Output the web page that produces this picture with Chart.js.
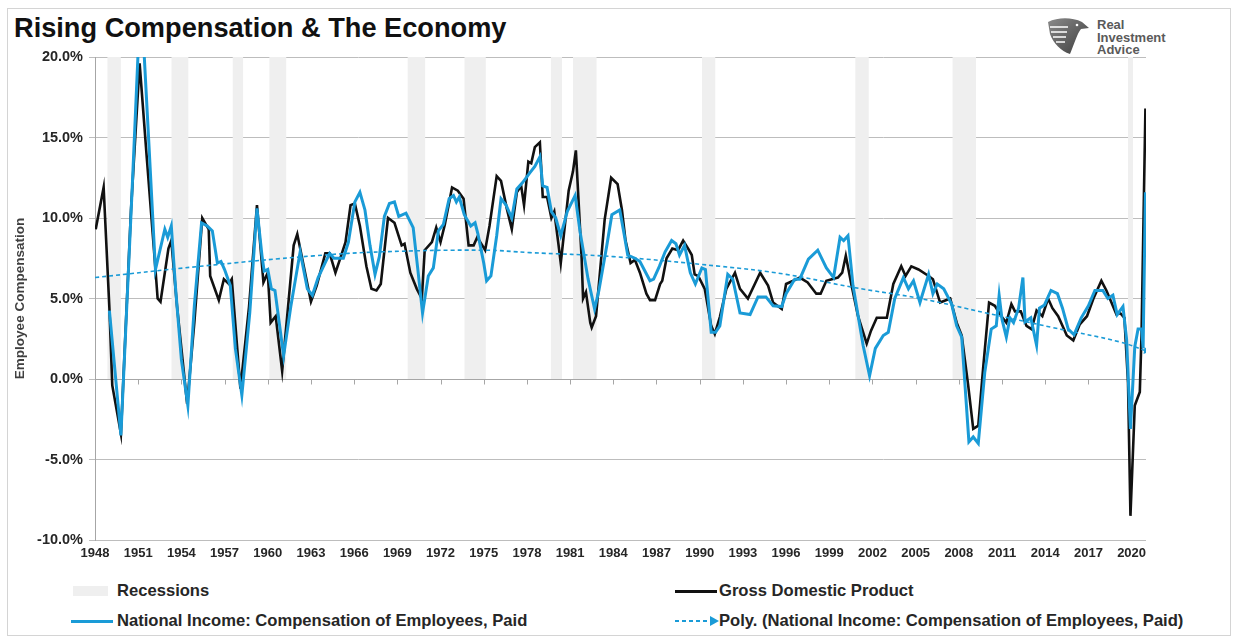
<!DOCTYPE html>
<html>
<head>
<meta charset="utf-8">
<script src="https://cdn.jsdelivr.net/npm/chart.js@4.4.1/dist/chart.umd.min.js"></script>
<style>
  body { margin: 0; background: #fff; font-family: Arial, "Liberation Sans", sans-serif; }
  #wrap { position: relative; width: 1236px; height: 641px; overflow: hidden; background: #fff; }
  #frame { position: absolute; left: 7px; top: 8px; width: 1222px; height: 626px; border: 1px solid #d4d4d4; }
  #title { position: absolute; left: 14px; top: 14px; font-size: 27.2px; line-height: 27px; font-weight: bold; color: #111; white-space: nowrap; }
  #chartBox { position: absolute; left: 0; top: 0; }
  #logoText { position: absolute; left: 1097px; top: 19px; font-size: 13px; line-height: 12.5px; font-weight: bold; color: #5a5a5a; }
  #logoMark { position: absolute; left: 1046px; top: 16px; }
  .leg { position: absolute; font-size: 16.6px; line-height: 20px; font-weight: bold; color: #262626; white-space: nowrap; }
  .sw { position: absolute; }
</style>
</head>
<body>
<div id="wrap">
  <div id="frame"></div>
  <div id="title">Rising Compensation &amp; The Economy</div>
  <svg id="logoMark" width="44" height="40" viewBox="0 0 44 40">
    <defs>
      <linearGradient id="lg" x1="0" y1="0" x2="1" y2="1">
        <stop offset="0" stop-color="#8a8a8a"/>
        <stop offset="1" stop-color="#3c3c3c"/>
      </linearGradient>
    </defs>
    <path d="M2 6 C12 1 26 1 36 6 L43 12 L35 13 C31 18 29 26 24 38 C15 35 7 27 4 18 Z" fill="url(#lg)"/>
    <path d="M4 11 L22 11 M5 16 L21 16 M7 21 L20 21 M10 26 L19 26" stroke="#fff" stroke-width="1.6"/>
    <circle cx="31" cy="9" r="1.3" fill="#fff"/>
  </svg>
  <div id="logoText">Real<br>Investment<br>Advice</div>
  <div id="chartBox"><canvas id="chart" width="1236" height="570"></canvas></div>

  <div class="sw" style="left:73px;top:586px;width:35px;height:10px;background:#efefef;"></div>
  <div class="leg" style="left:117px;top:581px;">Recessions</div>
  <div class="sw" style="left:71px;top:620px;width:42px;height:3px;background:#1a9bd7;"></div>
  <div class="leg" style="left:117px;top:611px;">National Income: Compensation of Employees, Paid</div>

  <div class="sw" style="left:675px;top:590px;width:42px;height:3px;background:#111;"></div>
  <div class="leg" style="left:719px;top:581px;">Gross Domestic Product</div>
  <svg class="sw" style="left:674px;top:614px;" width="46" height="14">
    <line x1="1" y1="7" x2="38" y2="7" stroke="#1a9bd7" stroke-width="2" stroke-dasharray="4,3"/>
    <polygon points="36,2 45,7 36,12" fill="#1a9bd7"/>
  </svg>
  <div class="leg" style="left:719px;top:611px;">Poly. (National Income: Compensation of Employees, Paid)</div>
</div>

<script>
// recession shading (year fractions)
const recessionStart = [1948.85, 1953.3, 1957.55, 1960.1, 1969.7, 1973.65, 1979.65, 1981.2, 1990.15, 2000.8, 2007.55, 2019.75];
const recessionEnd   = [1949.8, 1954.5, 1958.3, 1961.3, 1970.95, 1975.15, 1980.45, 1982.85, 1991.1, 2001.75, 2009.2, 2020.1];

// Gross Domestic Product, % change y/y  [year, value]
const gdpSeries = [
  [1948.05, 9.3], [1948.6, 11.9], [1949.0, 4.4], [1949.2, -0.4], [1949.8, -3.4], [1950.5, 10.5],
  [1951.1, 19.6], [1951.6, 13.7], [1952.2, 6.8], [1952.35, 5.0], [1952.55, 4.8], [1953.1, 8.1],
  [1953.3, 8.6], [1953.7, 4.5], [1954.4, -1.55], [1954.9, 3.5], [1955.45, 10.0], [1955.9, 9.3],
  [1956.0, 6.4], [1956.6, 4.9], [1956.95, 6.2], [1957.3, 5.9], [1957.5, 6.2], [1958.1, -0.6],
  [1958.7, 4.5], [1959.25, 10.8], [1959.7, 6.0], [1960.0, 6.6], [1960.2, 3.5], [1960.55, 3.9],
  [1961.0, 0.5], [1961.8, 8.3], [1962.05, 9.0], [1962.5, 7.0], [1963.0, 4.8], [1963.4, 5.8],
  [1964.0, 7.8], [1964.3, 7.8], [1964.7, 6.6], [1965.0, 7.4], [1965.4, 8.5], [1965.75, 10.8],
  [1966.05, 10.9], [1966.4, 9.5], [1966.85, 7.0], [1967.2, 5.6], [1967.55, 5.5], [1967.85, 5.9],
  [1968.35, 10.0], [1968.8, 9.7], [1969.3, 8.3], [1969.5, 8.4], [1969.9, 6.6], [1970.35, 5.6],
  [1970.7, 5.0], [1970.9, 8.0], [1971.4, 8.5], [1971.7, 9.4], [1972.0, 8.5], [1972.3, 9.6],
  [1972.8, 11.9], [1973.2, 11.7], [1973.6, 11.2], [1973.95, 8.3], [1974.3, 8.3], [1974.55, 8.8],
  [1974.9, 8.3], [1975.1, 8.0], [1975.4, 9.5], [1975.9, 12.6], [1976.2, 12.3], [1976.6, 10.6],
  [1976.95, 9.3], [1977.3, 11.6], [1977.6, 12.0], [1977.8, 10.8], [1978.1, 13.5], [1978.3, 13.4],
  [1978.55, 14.4], [1978.9, 14.7], [1979.1, 11.3], [1979.4, 11.3], [1979.7, 10.0], [1979.9, 10.4],
  [1980.2, 8.3], [1980.35, 7.2], [1980.9, 11.7], [1981.2, 12.9], [1981.4, 14.2], [1981.8, 7.5],
  [1981.9, 5.0], [1982.1, 5.4], [1982.4, 3.5], [1982.5, 3.2], [1982.8, 3.9], [1983.4, 9.9],
  [1983.85, 12.5], [1984.3, 12.1], [1984.6, 10.5], [1984.85, 8.6], [1985.2, 7.2], [1985.5, 7.4],
  [1985.85, 6.6], [1986.3, 5.3], [1986.55, 4.9], [1986.9, 4.9], [1987.25, 5.9], [1987.4, 6.1],
  [1987.7, 7.5], [1988.1, 8.1], [1988.5, 8.0], [1988.85, 8.6], [1989.2, 8.1], [1989.45, 7.7],
  [1989.65, 6.5], [1989.9, 6.4], [1990.35, 5.6], [1990.8, 3.3], [1991.05, 2.8], [1991.4, 3.85],
  [1991.85, 5.6], [1992.45, 6.6], [1992.8, 5.6], [1993.35, 5.0], [1994.2, 6.6], [1994.75, 5.8],
  [1995.1, 4.75], [1995.7, 4.35], [1996.0, 5.9], [1996.5, 6.1], [1996.95, 6.3], [1997.5, 6.0],
  [1998.1, 5.3], [1998.4, 5.3], [1998.8, 6.1], [1999.6, 6.3], [1999.9, 6.6], [2000.15, 7.65],
  [2000.55, 5.8], [2001.0, 3.9], [2001.6, 2.2], [2001.9, 3.0], [2002.3, 3.8], [2003.0, 3.8],
  [2003.45, 5.9], [2004.0, 7.0], [2004.3, 6.4], [2004.7, 7.0], [2005.2, 6.8], [2005.9, 6.4],
  [2006.2, 6.2], [2006.7, 4.75], [2007.4, 5.0], [2007.85, 3.5], [2008.2, 2.7], [2008.65, -0.4],
  [2009.0, -3.1], [2009.35, -2.9], [2009.7, 0.8], [2010.1, 4.75], [2010.5, 4.55], [2010.95, 3.9],
  [2011.3, 3.5], [2011.65, 4.65], [2011.9, 4.2], [2012.3, 4.2], [2012.7, 3.3], [2013.05, 3.1],
  [2013.4, 4.25], [2013.8, 3.9], [2014.2, 5.0], [2014.5, 4.4], [2014.9, 3.9], [2015.5, 2.7],
  [2015.95, 2.4], [2016.4, 3.4], [2016.9, 3.9], [2017.35, 5.0], [2017.9, 6.1], [2018.25, 5.5],
  [2018.6, 4.75], [2018.95, 4.0], [2019.2, 4.1], [2019.5, 3.8], [2019.75, -0.2], [2019.92, -8.5],
  [2020.22, -1.65], [2020.57, -0.8], [2020.69, 2.8], [2020.96, 16.8]
];

// National Income: Compensation of Employees, Paid, % change y/y  [year, value]
const compSeries = [
  [1949.0, 4.25], [1949.8, -3.5], [1950.6, 12.2], [1951.0, 20.4], [1951.4, 20.4], [1951.75, 14.5],
  [1952.2, 6.8], [1952.85, 9.3], [1953.05, 8.8], [1953.3, 9.5], [1953.6, 5.6], [1954.0, 1.2],
  [1954.45, -1.65], [1954.9, 4.55], [1955.4, 9.7], [1955.8, 9.5], [1956.15, 9.2], [1956.5, 7.2],
  [1956.75, 7.3], [1957.0, 6.8], [1957.4, 5.8], [1957.75, 1.9], [1958.2, -1.0], [1958.75, 4.1],
  [1959.25, 10.6], [1959.6, 7.65], [1959.75, 6.7], [1960.0, 6.8], [1960.25, 5.6], [1960.5, 5.5],
  [1961.1, 1.45], [1961.6, 4.5], [1962.25, 7.9], [1962.75, 5.6], [1963.1, 5.2], [1963.5, 6.3],
  [1964.0, 7.25], [1964.3, 7.8], [1964.6, 7.5], [1965.25, 7.5], [1965.6, 8.5], [1966.05, 11.0],
  [1966.4, 11.6], [1966.75, 10.5], [1967.1, 8.3], [1967.45, 6.5], [1967.75, 7.6], [1968.1, 10.1],
  [1968.45, 10.9], [1968.8, 11.0], [1969.1, 10.1], [1969.6, 10.3], [1970.1, 9.4], [1970.4, 7.0],
  [1970.75, 4.1], [1971.15, 6.4], [1971.5, 6.9], [1971.85, 9.2], [1972.2, 9.6], [1972.6, 11.2],
  [1972.9, 11.4], [1973.1, 11.0], [1973.3, 11.3], [1973.65, 10.2], [1974.1, 9.5], [1974.4, 9.7],
  [1974.6, 9.0], [1975.0, 7.2], [1975.2, 6.1], [1975.5, 6.4], [1975.9, 8.9], [1976.2, 11.2],
  [1976.55, 10.8], [1976.95, 10.0], [1977.3, 11.8], [1977.7, 12.2], [1978.2, 12.8], [1978.55, 13.2],
  [1978.9, 13.8], [1979.1, 12.0], [1979.4, 11.9], [1979.7, 10.4], [1980.0, 10.0], [1980.35, 8.9],
  [1980.8, 10.4], [1981.35, 11.4], [1981.7, 9.1], [1982.25, 6.2], [1982.7, 4.35], [1983.0, 5.5],
  [1983.55, 8.3], [1983.9, 10.2], [1984.45, 10.5], [1984.75, 9.0], [1985.0, 7.7], [1985.5, 7.5],
  [1985.85, 7.3], [1986.55, 6.1], [1986.8, 6.2], [1987.2, 7.0], [1987.6, 7.9], [1988.05, 8.6],
  [1988.35, 8.4], [1988.6, 7.7], [1988.95, 8.3], [1989.35, 6.6], [1989.7, 5.9], [1990.15, 6.9],
  [1990.4, 6.8], [1990.8, 2.9], [1991.1, 2.9], [1991.4, 3.3], [1991.95, 6.5], [1992.3, 6.2],
  [1992.8, 4.1], [1993.5, 4.0], [1994.05, 5.1], [1994.6, 5.1], [1995.1, 4.55], [1995.7, 4.5],
  [1996.0, 5.3], [1996.6, 6.2], [1996.95, 6.2], [1997.55, 7.45], [1998.2, 8.0], [1998.8, 6.9],
  [1999.3, 6.3], [1999.75, 8.8], [2000.0, 8.6], [2000.3, 8.9], [2000.65, 5.8], [2001.35, 2.1],
  [2001.8, 0.2], [2002.2, 1.9], [2002.75, 2.7], [2003.1, 2.9], [2003.55, 5.0], [2004.15, 6.3],
  [2004.5, 5.6], [2004.85, 6.1], [2005.3, 4.75], [2005.9, 6.5], [2006.2, 5.3], [2006.5, 5.9],
  [2006.95, 5.6], [2007.5, 4.65], [2007.85, 3.3], [2008.2, 2.6], [2008.7, -3.9], [2009.0, -3.6],
  [2009.35, -4.0], [2009.8, 0.4], [2010.25, 3.1], [2010.6, 3.3], [2010.8, 5.2], [2011.0, 3.7],
  [2011.3, 2.6], [2011.55, 3.8], [2011.8, 3.5], [2012.15, 4.4], [2012.45, 6.3], [2012.6, 3.55],
  [2013.0, 3.8], [2013.4, 2.1], [2013.6, 4.4], [2013.95, 4.6], [2014.4, 5.5], [2014.85, 5.3],
  [2015.2, 4.4], [2015.6, 3.1], [2016.0, 2.75], [2016.5, 3.8], [2017.0, 4.55], [2017.45, 5.5],
  [2018.0, 5.5], [2018.35, 5.0], [2018.7, 5.2], [2019.0, 4.0], [2019.4, 4.5], [2019.65, 2.5],
  [2019.92, -3.1], [2020.22, 2.0], [2020.45, 3.1], [2020.7, 3.1], [2020.8, 1.9], [2020.96, 11.6]
];

// Poly. trendline of compensation  [year, value]
const trendSeries = [
  [1948.0, 6.3], [1955.3, 7.0], [1963.2, 7.65], [1968.0, 7.9], [1975.0, 8.0], [1978.2, 7.85],
  [1984.0, 7.6], [1991.4, 7.0], [1996.0, 6.5], [2000.6, 5.7], [2005.3, 5.0], [2009.9, 4.1],
  [2014.5, 3.2], [2019.2, 2.3], [2021.0, 1.75]
];

const xTickStart = 1948, xTickEnd = 2020, xTickStep = 3;
const yTickValues = [-10, -5, 0, 5, 10, 15, 20];

const toPoints = s => s.map(p => ({ x: p[0], y: p[1] }));

const recessionPoints = [];
recessionStart.forEach((s, i) => {
  recessionPoints.push({ x: s, y: 20 }, { x: recessionEnd[i], y: 20 }, { x: recessionEnd[i], y: null });
});

const blue = '#1a9bd7';
const textColor = '#262626';
const fontFamily = 'Arial, "Liberation Sans", sans-serif';

// horizontal axis crosses at 0 with tick marks; labels sit at the bottom
const zeroAxis = {
  id: 'zeroAxis',
  beforeDatasetsDraw(chart) {
    const { ctx, chartArea, scales } = chart;
    const y0 = Math.round(scales.y.getPixelForValue(0)) + 0.5;
    ctx.save();
    ctx.strokeStyle = '#a6a6a6';
    ctx.lineWidth = 1;
    ctx.beginPath();
    ctx.moveTo(chartArea.left, y0);
    ctx.lineTo(chartArea.right, y0);
    scales.x.ticks.forEach(t => {
      const px = Math.round(scales.x.getPixelForValue(t.value)) + 0.5;
      ctx.moveTo(px, y0);
      ctx.lineTo(px, y0 + 5);
    });
    ctx.stroke();
    ctx.restore();
  }
};

const trendPts = toPoints(trendSeries);

new Chart(document.getElementById('chart'), {
  type: 'line',
  data: {
    datasets: [
      {
        label: 'Poly. (National Income: Compensation of Employees, Paid)',
        data: trendPts,
        borderColor: blue,
        borderWidth: 1.6,
        borderDash: [4, 3],
        tension: 0.4,
        pointRadius: trendPts.map((p, i) => i === trendPts.length - 1 ? 4 : 0),
        pointStyle: 'triangle',
        pointRotation: 98,
        pointBackgroundColor: blue,
        pointBorderWidth: 0,
        order: 0
      },
      {
        label: 'National Income: Compensation of Employees, Paid',
        data: toPoints(compSeries),
        borderColor: blue,
        borderWidth: 3,
        pointRadius: 0,
        tension: 0,
        order: 1
      },
      {
        label: 'Gross Domestic Product',
        data: toPoints(gdpSeries),
        borderColor: '#111111',
        borderWidth: 2.6,
        pointRadius: 0,
        tension: 0,
        order: 2
      },
      {
        label: 'Recessions',
        data: recessionPoints,
        borderWidth: 0,
        borderColor: 'rgba(0,0,0,0)',
        backgroundColor: '#efefef',
        pointRadius: 0,
        fill: 'origin',
        spanGaps: false,
        order: 3
      }
    ]
  },
  options: {
    responsive: false,
    animation: false,
    events: [],
    devicePixelRatio: 1,
    layout: { padding: { top: 57, right: 90, left: 12, bottom: 0 } },
    plugins: { legend: { display: false }, tooltip: { enabled: false } },
    scales: {
      x: {
        type: 'linear',
        min: 1948,
        max: 2021,
        grid: { display: false, drawTicks: false },
        border: { display: false },
        afterBuildTicks: scale => {
          const t = [];
          for (let v = xTickStart; v <= xTickEnd; v += xTickStep) t.push({ value: v });
          scale.ticks = t;
        },
        ticks: {
          autoSkip: false,
          maxRotation: 0,
          padding: 6,
          color: textColor,
          font: { family: fontFamily, size: 13, weight: 'bold' },
          callback: v => String(v)
        },
        afterFit: scale => { scale.height = 30; }
      },
      y: {
        min: -10,
        max: 20,
        afterBuildTicks: scale => { scale.ticks = yTickValues.map(v => ({ value: v })); },
        grid: { color: '#bdbdbd', tickLength: 6 },
        border: { display: true, color: '#a6a6a6' },
        ticks: {
          padding: 6,
          color: textColor,
          font: { family: fontFamily, size: 14.5, weight: 'bold' },
          callback: v => v.toFixed(1) + '%'
        },
        title: {
          display: true,
          text: 'Employee Compensation',
          color: '#404040',
          padding: { top: 0, bottom: 0 },
          font: { family: fontFamily, size: 13.5, weight: 'bold' }
        },
        afterFit: scale => { scale.width = 83; }
      }
    }
  },
  plugins: [zeroAxis]
});
</script>
</body>
</html>
